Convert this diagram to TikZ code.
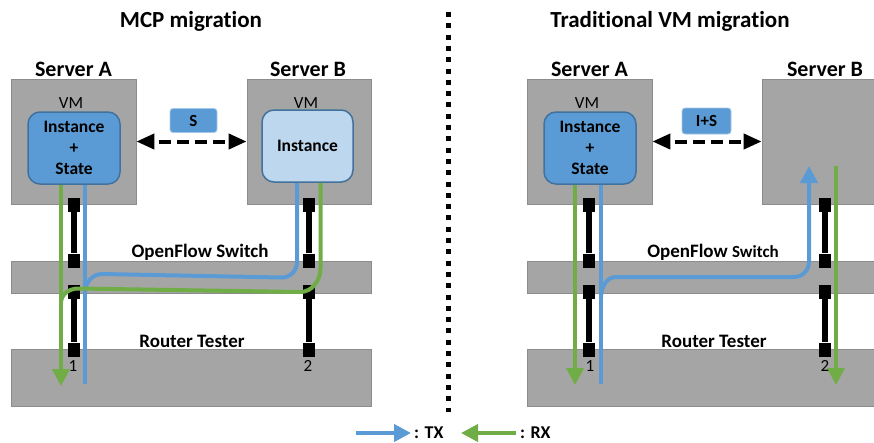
\documentclass[tikz,border=0pt]{standalone}
\usepackage{fontspec}
\setmainfont[Ligatures=NoCommon]{Carlito}
\usepackage{xcolor}
\usetikzlibrary{arrows.meta}
\definecolor{boxgray}{HTML}{A5A5A5}
\definecolor{boxline}{HTML}{8C8C8C}
\definecolor{txblue}{HTML}{5B9BD5}
\definecolor{rxgreen}{HTML}{70AD47}
\definecolor{darkblue}{HTML}{41719C}
\definecolor{paleblue}{HTML}{BDD7EE}

\begin{document}
\begin{tikzpicture}[x=1pt,y=-1pt, line cap=butt]
	\tikzstyle{server}=[draw=boxline,fill=boxgray,line width=0.8pt,inner sep=0pt,minimum height=125pt]
	\tikzstyle{bar}=[server,minimum height=32pt]
	\tikzstyle{vm}=[draw=darkblue,fill=txblue,line width=1.5pt,rounded corners=12pt,minimum width=92pt,minimum height=72pt,inner sep=0pt,align=center,font=\bfseries\fontsize{17.5}{21}\selectfont]
	\tikzstyle{vm empty}=[vm,fill=paleblue]
	\tikzstyle{tag}=[fill=txblue,draw=txblue!55!white,line width=0.8pt,rounded corners=3pt,minimum height=24pt,inner sep=0pt,font=\bfseries\fontsize{17}{20}\selectfont]
	\tikzstyle{plug}=[fill=black,minimum width=12pt,minimum height=14pt,inner sep=0pt]
	\tikzstyle{cable}=[line width=6.5pt]
	\tikzstyle{tx}=[txblue,line width=4pt]
	\tikzstyle{rx}=[rxgreen,line width=4pt]
	\tikzstyle{flow}=[-{Triangle[length=17pt,width=17pt]}]
	\tikzstyle{move}=[line width=4pt,dash pattern=on 12pt off 6pt,dash phase=12pt,{Triangle[length=18pt,width=15pt]}-{Triangle[length=18pt,width=15pt]}]
	\tikzstyle{divider}=[line width=5pt,dash pattern=on 5pt off 6.3pt]
	\tikzstyle{title}=[anchor=base,inner sep=0pt,font=\bfseries\fontsize{23}{27}\selectfont]
	\tikzstyle{head}=[anchor=base,inner sep=0pt,font=\bfseries\fontsize{22}{26}\selectfont]
	\tikzstyle{annot}=[anchor=base,inner sep=0pt,font=\bfseries\fontsize{19}{23}\selectfont]
	\tikzstyle{small}=[anchor=base,inner sep=0pt,font=\fontsize{17}{20}\selectfont]
	
	\useasboundingbox (0,0) rectangle (874,442);
	
	% Draw the servers
	\foreach \name / \x / \w in {A-1/73.5/125, B-1/309/124, A-2/589.5/125, B-2/825/126}
	\node[server,minimum width=\w] (S\name) at (\x,141.5) {};
	
	% Draw the switch and the tester
	\node[bar,minimum width=360pt] (sw-1) at (191,277) {};
	\node[bar,minimum width=360pt,minimum height=57pt] (rt-1) at (191,377.5) {};
	\node[bar,minimum width=352pt] (sw-2) at (703,277) {};
	\node[bar,minimum width=352pt,minimum height=57pt] (rt-2) at (703,377.5) {};
	
	% Draw the VM contents
	\node[vm] (in-1) at (74,148) {Instance\\+\\State};
	\node[vm empty,minimum width=91pt] (in-2) at (307.5,146) {Instance};
	\node[vm] (in-3) at (590,148) {Instance\\+\\State};
	
	% Draw the cables, a plug on each end
	\foreach \name / \x in {1/74, 2/309, 3/589, 4/825} {
		\node[plug] (U\name-t) at (\x,204.5) {};
		\node[plug] (U\name-b) at (\x,260.5) {};
		\node[plug] (L\name-t) at (\x,291.5) {};
		\node[plug] (L\name-b) at (\x,349.5) {};
	}
	\foreach \name in {1,...,4} {
		\draw[cable] (U\name-t) -- (U\name-b);
		\draw[cable] (L\name-t) -- (L\name-b);
	}
	
	% Migration arrows
	\node[tag,minimum width=47pt] (mv-1) at (193.5,120.5) {S};
	\node[tag,minimum width=49pt,minimum height=26pt] (mv-2) at (706.5,121) {I+S};
	\draw[move] (SA-1) -- (SB-1);
	\draw[move] (SA-2) -- (SB-2.west |- SA-2);
	
	% Traffic, MCP migration
	\coordinate (rx-1) at (61,386);
	\coordinate (tx-1) at (85,384);
	\coordinate (rx-2) at (320.5,268);
	\coordinate (tx-2) at (297,262);
	\draw[rx,flow] (rx-1 |- in-1.south) -- (rx-1);
	\draw[tx] (tx-1 |- in-1.south) -- (tx-1);
	\draw[tx] (tx-2 |- in-2.south) -- (tx-2) to[out=-90,in=0] (282,277.5)
		-- (102,274) to[out=180,in=90] (tx-1 |- 0,293);
	\draw[rx] (rx-2 |- in-2.south) -- (rx-2) to[out=-90,in=0] (300,292)
		-- (78,288.5) to[out=180,in=90] (rx-1 |- 0,303);
	
	% Traffic, traditional migration
	\coordinate (rx-3) at (575,385);
	\coordinate (tx-3) at (601,384);
	\coordinate (tx-4) at (809,166);
	\coordinate (rx-4) at (836,166);
	\coordinate (rx-5) at (836,385);
	\draw[rx,flow] (rx-3 |- in-3.south) -- (rx-3);
	\draw[tx] (tx-3 |- in-3.south) -- (tx-3);
	\draw[tx,flow] (tx-3 |- 0,298) to[out=90,in=180] (616,277)
		-- (794,277) to[out=0,in=-90] (tx-4 |- 0,262) -- (tx-4);
	\draw[rx,flow] (rx-4) -- (rx-5);
	
	% Annotate the servers
	\node[head] (hA-1) at (73.5,76) {Server A};
	\node[head] (hB-1) at (308,76) {Server B};
	\node[head] (hA-2) at (589.5,76) {Server A};
	\node[head] (hB-2) at (825,76) {Server B};
	\node[small] (vm-1) at (71,108) {VM};
	\node[small] (vm-2) at (306,108) {VM};
	\node[small] (vm-3) at (587,108) {VM};
	
	% Annotate the switch, the tester and its ports
	\node[annot] (la-sw1) at (200,257) {OpenFlow Switch};
	\node[annot] (la-rt1) at (192,347) {Router Tester};
	\node[annot] (la-sw2) at (713,257) {OpenFlow {\fontsize{17}{20}\selectfont Switch}};
	\node[annot] (la-rt2) at (714,347) {Router Tester};
	\foreach \name / \x / \t in {1/73/1, 2/308/2, 3/590/1, 4/825/2}
	\node[small] (p\name) at (\x,371) {\t};
	
	% Titles and the dividing line
	\node[title] (t-mcp) at (191,27) {MCP migration};
	\node[title] (t-vm) at (670,27) {Traditional VM migration};
	\coordinate (div-t) at (448,12);
	\coordinate (div-b) at (448,412);
	\draw[divider] (div-t) -- (div-b);
	
	% Legend
	\coordinate (lg-a) at (356,433);
	\coordinate (lg-b) at (411,433);
	\coordinate (lg-c) at (516,433);
	\coordinate (lg-d) at (461,433);
	\draw[tx,flow] (lg-a) -- (lg-b);
	\draw[rx,flow] (lg-c) -- (lg-d);
	\node[annot,font=\bfseries\fontsize{18}{22}\selectfont,anchor=base west] (lg-tx) at (414,438.5) {: TX};
	\node[annot,font=\bfseries\fontsize{18}{22}\selectfont,anchor=base west] (lg-rx) at (520,438.5) {: RX};
\end{tikzpicture}
\end{document}
